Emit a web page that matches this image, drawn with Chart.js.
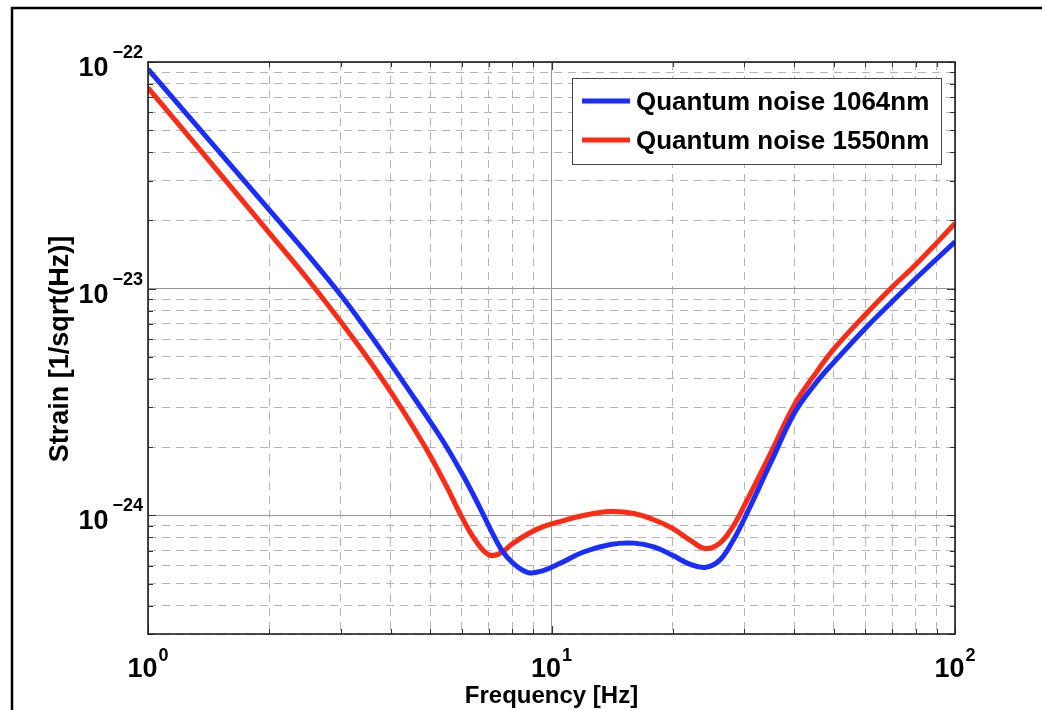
<!DOCTYPE html>
<html>
<head>
<meta charset="utf-8">
<script src="https://cdn.jsdelivr.net/npm/chart.js@4.4.1/dist/chart.umd.min.js"></script>
<style>
    html, body { margin: 0; padding: 0; background: #fff; }
    #wrap { width: 1042px; height: 710px; position: relative; }
</style>
</head>
<body>
<div id="wrap"><canvas id="noiseChart"></canvas></div>
<script>
// frequency in Hz, strain in 1/sqrt(Hz)
const freqs = [1, 1.5, 2, 2.5, 3, 3.5, 4, 4.5, 5, 5.5, 6, 6.5, 7, 7.5, 8, 8.75, 9.5, 10.5, 12, 14, 16, 18, 20, 22, 24, 26, 28, 30, 35, 40, 45, 50, 60, 70, 80, 100];
const noise1064 = [9.3e-23, 4.02e-23, 2.22e-23, 1.4e-23, 9.4e-24, 6.5e-24, 4.65e-24, 3.43e-24, 2.6e-24, 2.0e-24, 1.53e-24, 1.17e-24, 8.96e-25, 7.1e-25, 6.2e-25, 5.6e-25, 5.7e-25, 6.15e-25, 6.9e-25, 7.45e-25, 7.55e-25, 7.25e-25, 6.65e-25, 6.1e-25, 5.9e-25, 6.3e-25, 7.6e-25, 9.6e-25, 1.72e-24, 2.83e-24, 3.8e-24, 4.72e-24, 6.7e-24, 8.8e-24, 1.11e-23, 1.61e-23];
const noise1550 = [7.7e-23, 3.25e-23, 1.76e-23, 1.09e-23, 7.17e-24, 4.95e-24, 3.5e-24, 2.52e-24, 1.84e-24, 1.34e-24, 9.8e-25, 7.7e-25, 6.7e-25, 6.85e-25, 7.5e-25, 8.3e-25, 8.9e-25, 9.4e-25, 1.0e-24, 1.04e-24, 1.02e-24, 9.55e-25, 8.75e-25, 7.8e-25, 7.15e-25, 7.5e-25, 8.8e-25, 1.1e-24, 1.9e-24, 3.08e-24, 4.2e-24, 5.4e-24, 7.7e-24, 1.02e-23, 1.28e-23, 1.94e-23];
const seriesLabels = ['Quantum noise 1064nm', 'Quantum noise 1550nm'];
const seriesColors = ['#1a2dff', '#ff2a14'];
const xRange = [1, 100];
const yRange = [3e-25, 1e-22];
const xTitle = 'Frequency [Hz]';
const yTitle = 'Strain [1/sqrt(Hz)]';

const FONT = '"Liberation Sans", Arial, Helvetica, sans-serif';

function isDecade(v) {
    const l = Math.log10(v);
    return Math.abs(l - Math.round(l)) < 1e-6;
}

// 1..9 x 10^n inside the range
function logTicks(min, max) {
    const out = [];
    for (let e = Math.floor(Math.log10(min)); e <= Math.ceil(Math.log10(max)); e++) {
        for (let m = 1; m <= 9; m++) {
            const v = Number((m * Math.pow(10, e)).toPrecision(6));
            if (v >= min * 0.999 && v <= max * 1.001) out.push(v);
        }
    }
    return out;
}

function expText(v) {
    const e = Math.round(Math.log10(v));
    return e < 0 ? '\u2212' + Math.abs(e) : String(e);
}

const gridOpts = {
    drawTicks: false,
    color: (c) => c.tick && isDecade(c.tick.value) ? '#969696' : '#b4b4b4',
    lineWidth: 1
};
const borderOpts = {
    display: false,
    dash: (c) => c.tick && isDecade(c.tick.value) ? [] : [8, 6]
};

const figurePlugin = {
    id: 'figure',
    beforeDraw(chart) {
        const ctx = chart.ctx;
        ctx.save();
        ctx.fillStyle = '#fff';
        ctx.fillRect(0, 0, chart.width, chart.height);
        ctx.restore();
    },
    afterDraw(chart) {
        const { ctx, chartArea: a, scales: { x, y } } = chart;
        ctx.save();

        // outer figure frame
        ctx.strokeStyle = '#000';
        ctx.lineWidth = 2.5;
        ctx.beginPath();
        ctx.moveTo(12, chart.height);
        ctx.lineTo(12, 8);
        ctx.lineTo(chart.width, 8);
        ctx.stroke();

        // inner tick marks on all four sides
        ctx.strokeStyle = '#333';
        ctx.lineWidth = 1;
        ctx.beginPath();
        x.ticks.forEach(t => {
            const px = Math.round(x.getPixelForValue(t.value)) + 0.5;
            const len = isDecade(t.value) ? 8 : 5;
            ctx.moveTo(px, a.bottom); ctx.lineTo(px, a.bottom - len);
            ctx.moveTo(px, a.top); ctx.lineTo(px, a.top + len);
        });
        y.ticks.forEach(t => {
            const py = Math.round(y.getPixelForValue(t.value)) + 0.5;
            const len = isDecade(t.value) ? 8 : 5;
            ctx.moveTo(a.left, py); ctx.lineTo(a.left + len, py);
            ctx.moveTo(a.right, py); ctx.lineTo(a.right - len, py);
        });
        ctx.stroke();

        // axes box
        ctx.strokeStyle = '#1e1e1e';
        ctx.lineWidth = 1.6;
        ctx.strokeRect(a.left, a.top, a.right - a.left, a.bottom - a.top);

        // tick labels 10^n
        ctx.fillStyle = '#000';
        ctx.textBaseline = 'alphabetic';
        y.ticks.filter(t => isDecade(t.value)).forEach(t => {
            const py = y.getPixelForValue(t.value);
            const ex = expText(t.value);
            ctx.textAlign = 'right';
            ctx.font = 'bold 18px ' + FONT;
            ctx.fillText(ex, a.left - 5, py - 4);
            const w = ctx.measureText(ex).width;
            ctx.font = 'bold 27px ' + FONT;
            ctx.fillText('10', a.left - 5 - w - 4, py + 14);
        });
        x.ticks.filter(t => isDecade(t.value)).forEach(t => {
            const px = x.getPixelForValue(t.value);
            const ex = expText(t.value);
            ctx.font = 'bold 27px ' + FONT;
            const w10 = ctx.measureText('10').width;
            ctx.font = 'bold 18px ' + FONT;
            const we = ctx.measureText(ex).width;
            const start = px - (w10 + we + 1) / 2;
            ctx.textAlign = 'left';
            ctx.fillText(ex, start + w10 + 1, a.bottom + 27);
            ctx.font = 'bold 27px ' + FONT;
            ctx.fillText('10', start, a.bottom + 43);
        });

        // axis titles
        ctx.font = 'bold 24px ' + FONT;
        ctx.textAlign = 'center';
        ctx.fillText(xTitle, (a.left + a.right) / 2, 703);
        ctx.save();
        ctx.translate(61, 349);
        ctx.rotate(-Math.PI / 2);
        ctx.font = 'bold 27px ' + FONT;
        ctx.textBaseline = 'middle';
        ctx.fillText(yTitle, 0, 0);
        ctx.restore();

        // legend
        const lx = 572, ly = 78, lw = 369, lh = 86;
        ctx.fillStyle = '#fff';
        ctx.fillRect(lx, ly, lw, lh);
        ctx.strokeStyle = '#444';
        ctx.lineWidth = 1;
        ctx.strokeRect(lx + 0.5, ly + 0.5, lw, lh);
        chart.data.datasets.forEach((ds, i) => {
            const rowY = 101 + i * 39;
            ctx.strokeStyle = ds.borderColor;
            ctx.lineWidth = 5;
            ctx.beginPath();
            ctx.moveTo(582, rowY);
            ctx.lineTo(630, rowY);
            ctx.stroke();
            ctx.fillStyle = '#000';
            ctx.font = 'bold 26px ' + FONT;
            ctx.textAlign = 'left';
            ctx.textBaseline = 'alphabetic';
            ctx.fillText(ds.label, 636, rowY + 9);
        });

        ctx.restore();
    }
};

const ctx = document.getElementById('noiseChart').getContext('2d');
new Chart(ctx, {
    type: 'line',
    data: {
        datasets: [noise1064, noise1550].map((vals, i) => ({
            label: seriesLabels[i],
            data: freqs.map((f, j) => ({ x: f, y: vals[j] })),
            borderColor: seriesColors[i],
            backgroundColor: seriesColors[i],
            borderWidth: 5,
            pointRadius: 0,
            fill: false,
            tension: 0.4
        }))
    },
    options: {
        responsive: true,
        maintainAspectRatio: false,
        animation: false,
        layout: { padding: { left: 148, top: 62, right: 87, bottom: 76 } },
        plugins: {
            legend: { display: false },
            tooltip: { enabled: false }
        },
        scales: {
            x: {
                type: 'logarithmic',
                min: xRange[0],
                max: xRange[1],
                afterBuildTicks: (scale) => { scale.ticks = logTicks(xRange[0], xRange[1]).map(v => ({ value: v })); },
                ticks: { display: false, autoSkip: false },
                grid: gridOpts,
                border: borderOpts
            },
            y: {
                type: 'logarithmic',
                min: yRange[0],
                max: yRange[1],
                afterBuildTicks: (scale) => { scale.ticks = logTicks(yRange[0], yRange[1]).map(v => ({ value: v })); },
                ticks: { display: false, autoSkip: false },
                grid: gridOpts,
                border: borderOpts
            }
        }
    },
    plugins: [figurePlugin]
});
</script>
</body>
</html>
